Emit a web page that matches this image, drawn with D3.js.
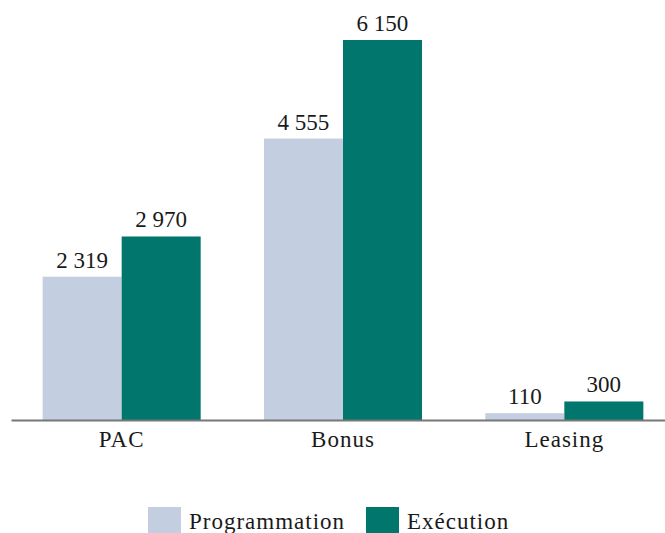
<!DOCTYPE html>
<html lang="fr">
<head>
<meta charset="UTF-8">
<title>Programmation / Exécution</title>
<style>
    body { margin: 0; background: #fff; }
    svg text { font-family: "Liberation Serif", Tinos, "Times New Roman", "DejaVu Serif", serif; fill: #1a1a1a; }
    .axis .domain { stroke: #777; stroke-width: 2; }
</style>
</head>
<body>
<svg width="665" height="533"></svg>
<script src="https://d3js.org/d3.v7.min.js"></script>
<script>
    var categories = ["PAC", "Bonus", "Leasing"];
    var seriesNames = ["Programmation", "Exécution"];
    var programmation = [2319, 4555, 110];
    var execution = [2970, 6150, 300];
    var colors = ["#c3cee0", "#00766d"];

    var serif = "'Liberation Serif', Tinos, 'Times New Roman', 'DejaVu Serif', serif";

    var data = categories.map(function (c, i) {
        return {cat: c, values: [programmation[i], execution[i]]};
    });

    var svg = d3.select("svg");
    var fr = d3.formatLocale({decimal: ",", thousands: " ", grouping: [3], currency: ["", " €"]});
    var fmt = fr.format(",d");

    var x0 = d3.scaleBand()
        .domain(categories)
        .range([11, 675])
        .paddingInner(0.286)
        .paddingOuter(0.143);

    var x1 = d3.scaleBand()
        .domain(seriesNames)
        .range([0, x0.bandwidth()]);

    var y = d3.scaleLinear()
        .domain([0, 6150])
        .range([420, 40]);

    // bars
    var groups = svg.selectAll("g.grp")
        .data(data)
        .enter().append("g")
        .attr("class", "grp")
        .attr("transform", function (d) { return "translate(" + x0(d.cat) + ",0)"; });

    var cells = groups.selectAll("g.cell")
        .data(function (d) {
            return d.values.map(function (v, i) { return {name: seriesNames[i], val: v, i: i}; });
        })
        .enter().append("g")
        .attr("class", "cell");

    cells.append("rect")
        .attr("x", function (d) { return x1(d.name); })
        .attr("width", x1.bandwidth())
        .attr("y", function (d) { return y(d.val); })
        .attr("height", function (d) { return y(0) - y(d.val); })
        .style("fill", function (d) { return colors[d.i]; });

    cells.append("text")
        .attr("x", function (d) { return x1(d.name) + x1.bandwidth() / 2; })
        .attr("y", function (d) { return y(d.val) - 9; })
        .attr("text-anchor", "middle")
        .style("font-family", serif)
        .style("font-size", "23px")
        .text(function (d) { return fmt(d.val); });

    // axis
    var axis = svg.append("g")
        .attr("class", "axis")
        .attr("transform", "translate(0," + y(0) + ")")
        .call(d3.axisBottom(x0).tickSize(0).tickSizeOuter(0).tickPadding(10));

    axis.attr("font-family", null);
    axis.selectAll(".tick text")
        .attr("dy", null)
        .attr("y", 27)
        .style("font-size", "23px")
        .style("letter-spacing", "1px")
        .style("font-family", serif)
        .attr("fill", "#1a1a1a");

    // legend
    var legendX = [148, 366];
    var legend = svg.selectAll("g.leg")
        .data(seriesNames)
        .enter().append("g")
        .attr("class", "leg")
        .attr("transform", function (d, i) { return "translate(" + legendX[i] + ",507)"; });

    legend.append("rect")
        .attr("width", 33)
        .attr("height", 33)
        .style("fill", function (d, i) { return colors[i]; });

    legend.append("text")
        .attr("x", 41)
        .attr("y", 22)
        .style("font-family", serif)
        .style("font-size", "23px")
        .style("letter-spacing", "1px")
        .text(function (d) { return d; });
</script>
</body>
</html>
